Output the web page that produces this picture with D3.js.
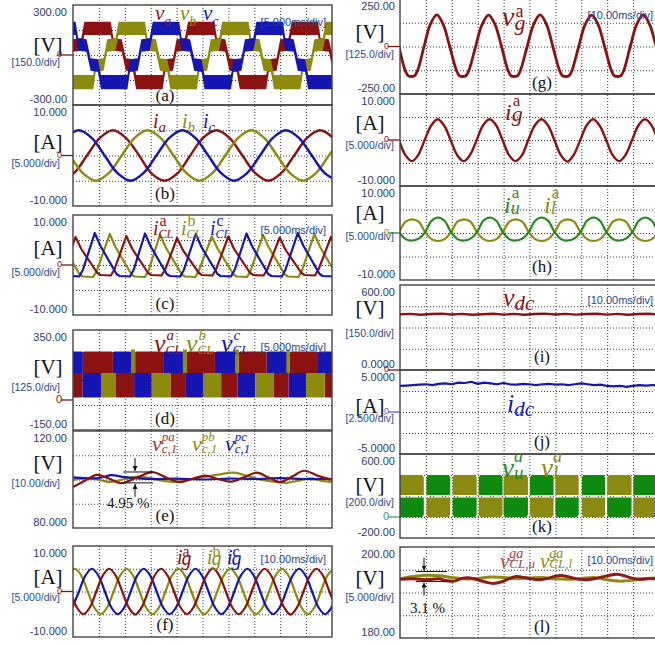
<!DOCTYPE html>
<html>
<head>
<meta charset="utf-8">
<title>MMC experimental waveforms</title>
<script src="https://cdn.jsdelivr.net/npm/d3@7/dist/d3.min.js"></script>
<style>
  html, body { margin: 0; padding: 0; background: #fff; }
  svg { display: block; }
  .tick-lbl { font-family: "Liberation Sans", Arial, sans-serif; font-size: 11px; fill: #2c3c64; }
  .div-lbl { font-family: "Liberation Sans", Arial, sans-serif; font-size: 10.5px; fill: #2a4c8c; }
  .time-lbl { font-family: "Liberation Sans", Arial, sans-serif; font-size: 11px; fill: #1d4690; }
  .unit { font-family: "Liberation Serif", "Times New Roman", serif; font-size: 21px; fill: #111; }
  .tag { font-family: "Liberation Serif", "Times New Roman", serif; font-size: 17px; fill: #111; }
  .ann { font-family: "Liberation Serif", "Times New Roman", serif; font-size: 15px; fill: #111; }
</style>
</head>
<body>
<svg id="fig" width="655" height="645" viewBox="0 0 655 645"></svg>
<script>
// ===================== waveform data =====================
// (a) output phase voltages, drawn as PWM bands: [time ms, band low V, band high V]
const vaBand = [[-2.2,-100,-25],[-0.7,-95,-20],[0.0,20,95],[1.6,25,100],
  [2.2,120,200],[7.3,120,200],[7.8,25,100],[9.4,20,95],[10.2,-95,-20],[11.6,-100,-25],[12.2,-205,-120],[17.3,-205,-120],[17.8,-100,-25],[19.3,-95,-20],[20.0,20,95],[21.6,25,100],
  [22.2,120,200],[27.3,120,200],[27.8,25,100],[29.4,20,95],[30.2,-95,-20],[31.6,-100,-25],[32.2,-205,-120],[37.3,-205,-120],[37.8,-100,-25],[39.3,-95,-20],[40.0,20,95],[41.6,25,100],
  [42.2,120,200],[47.3,120,200],[47.8,25,100],[49.4,20,95],[50.2,-95,-20],[51.6,-100,-25]];
const vbBand = [[-1.2,-205,-120],[3.9,-205,-120],[4.4,-100,-25],[5.9,-95,-20],[6.6,20,95],[8.2,25,100],
  [8.8,120,200],[13.9,120,200],[14.4,25,100],[16.0,20,95],[16.8,-95,-20],[18.2,-100,-25],[18.8,-205,-120],[23.9,-205,-120],[24.4,-100,-25],[25.9,-95,-20],[26.6,20,95],[28.2,25,100],
  [28.8,120,200],[33.9,120,200],[34.4,25,100],[36.0,20,95],[36.8,-95,-20],[38.2,-100,-25],[38.8,-205,-120],[43.9,-205,-120],[44.4,-100,-25],[45.9,-95,-20],[46.6,20,95],[48.2,25,100],
  [48.8,120,200],[53.9,120,200]];
const vcBand = [[-4.6,120,200],[0.5,120,200],[1.0,25,100],[2.6,20,95],[3.4,-95,-20],[4.8,-100,-25],[5.4,-205,-120],[10.5,-205,-120],[11.0,-100,-25],[12.5,-95,-20],[13.2,20,95],[14.8,25,100],
  [15.4,120,200],[20.5,120,200],[21.0,25,100],[22.6,20,95],[23.4,-95,-20],[24.8,-100,-25],[25.4,-205,-120],[30.5,-205,-120],[31.0,-100,-25],[32.5,-95,-20],[33.2,20,95],[34.8,25,100],
  [35.4,120,200],[40.5,120,200],[41.0,25,100],[42.6,20,95],[43.4,-95,-20],[44.8,-100,-25],[45.4,-205,-120],[50.5,-205,-120]];

// (b) load phase currents [ms, A]
const iaLoad = [[-2.3,-5.0],[0.2,-3.5],[2.7,0.0],[5.2,3.5],[7.7,5.0],[10.2,3.5],[12.7,0.1],[15.2,-3.6],[17.7,-5.0],[20.2,-3.5],[22.7,0.1],[25.2,3.6],[27.7,5.0],[30.2,3.5],[32.7,0.0],[35.2,-3.5],[37.7,-5.0],[40.2,-3.5],[42.7,0.0],[45.2,3.5],[47.7,5.0],[50.2,3.5],[52.7,0.0]];
const ibLoad = [[-5.6,5.0],[-3.1,3.5],[-0.6,0.0],[1.9,-3.5],[4.4,-5.0],[6.9,-3.5],[9.4,0.0],[11.9,3.5],[14.4,5.0],[16.9,3.5],[19.4,0.0],[21.9,-3.5],[24.4,-5.0],[26.9,-3.5],[29.4,0.0],[31.9,3.5],[34.4,5.0],[36.9,3.5],[39.4,0.0],[41.9,-3.5],[44.4,-5.0],[46.9,-3.5],[49.4,0.0],[51.9,3.5]];
const icLoad = [[-3.9,0.0],[-1.4,3.5],[1.1,5.0],[3.6,3.5],[6.1,0.0],[8.6,-3.5],[11.1,-5.0],[13.6,-3.5],[16.1,0.0],[18.6,3.5],[21.1,5.0],[23.6,3.5],[26.1,0.0],[28.6,-3.5],[31.1,-5.0],[33.6,-3.5],[36.1,0.0],[38.6,3.5],[41.1,5.0],[43.6,3.5],[46.1,0.0],[48.6,-3.5],[51.1,-5.0]];

// (c) lower-arm converter currents [ms, A]
const iclA = [[-2.4,-2.1],[-1.7,-0.8],[0.5,5.6],[1.6,3.2],[4.7,-1.6],[5.3,-2.0],[7.3,-2.1],[8.0,-0.9],
  [10.3,5.8],[11.4,3.3],[14.5,-1.6],[15.1,-2.0],[17.1,-2.1],[17.8,-0.9],
  [20.1,5.4],[21.2,3.0],[24.3,-1.6],[24.9,-2.0],[26.9,-2.1],[27.6,-0.9],
  [30.0,5.7],[31.1,3.2],[34.2,-1.6],[34.8,-2.0],[36.8,-2.1],[37.5,-0.9],
  [39.9,5.5],[41.0,3.1],[44.1,-1.6],[44.7,-2.0],[46.7,-2.1],[47.4,-0.9],
  [49.8,5.6],[50.9,3.2],[54.0,-1.6]];
const iclB = [[-2.9,6.0],[-1.8,3.5],[1.3,-1.9],[1.9,-2.3],[3.9,-2.4],[4.6,-1.1],
  [7.1,6.2],[8.2,3.6],[11.3,-1.9],[11.9,-2.3],[13.9,-2.4],[14.6,-1.1],
  [16.8,6.1],[17.9,3.5],[21.0,-1.9],[21.6,-2.3],[23.6,-2.4],[24.3,-1.1],
  [26.8,5.7],[27.9,3.3],[31.0,-1.9],[31.6,-2.3],[33.6,-2.4],[34.3,-1.1],
  [36.7,6.0],[37.8,3.5],[40.9,-1.9],[41.5,-2.3],[43.5,-2.4],[44.2,-1.1],
  [46.6,6.2],[47.7,3.6],[50.8,-1.9]];
const iclC = [[-5.6,6.2],[-4.5,3.6],[-1.4,-1.8],[-0.8,-2.2],[1.2,-2.3],[1.9,-1.0],
  [4.2,6.4],[5.3,3.8],[8.4,-1.8],[9.0,-2.2],[11.0,-2.3],[11.7,-1.0],
  [13.9,6.3],[15.0,3.7],[18.1,-1.8],[18.7,-2.2],[20.7,-2.3],[21.4,-1.0],
  [23.7,6.2],[24.8,3.6],[27.9,-1.8],[28.5,-2.2],[30.5,-2.3],[31.2,-1.0],
  [33.5,6.3],[34.6,3.7],[37.7,-1.8],[38.3,-2.2],[40.3,-2.3],[41.0,-1.0],
  [43.4,6.4],[44.5,3.8],[47.6,-1.8],[48.2,-2.2],[50.2,-2.3],[50.9,-1.0]];

// (d) lower-arm voltages: intervals [start ms, end ms] spent in the upper / lower band
const vclBands = { high: [135, 242], peak: [135, 252], low: [12, 135] };
const vclAHigh = [[1.9,7.7],[12.0,17.4],[22.0,27.4],[32.0,37.4],[41.8,47.3]];
const vclALow  = [[-1,1.8],[8.3,11.8],[18.8,21.8],[28.6,31.8],[38.8,41.6],[48.6,51]];
const vclBHigh = [[11.2,12.0],[21.2,22.0],[31.3,32.0],[41.2,41.8]];
const vclBLow  = [[5.4,8.3],[15.2,18.8],[25.1,28.6],[35.2,38.8],[45.0,48.6]];
const vclCHigh = [[-1,1.9],[7.7,11.3],[17.4,21.3],[27.4,31.4],[37.4,41.3],[47.3,51]];
const vclCLow  = [[1.8,5.4],[11.8,15.2],[21.8,25.1],[31.8,35.2],[41.6,45.0]];

// (e) fundamental of the phase cell voltages [ms, V]
const vcpA = [[0,96.9],[2.3,99.5],[4.6,101.9],[6.8,100.5],[9.3,98.5],[12.3,100.8],[15.4,103.0],[18.0,100.8],[20.6,98.9],[23.0,100.2],[25.5,101.6],[28.0,100.2],[30.5,99.1],[33.0,100.9],[35.5,102.8],[37.7,100.9],[40.0,99.0],[42.4,101.3],[44.6,103.6],[47.3,101.5],[50,99.8]];
const vcpB = [[0,99.8],[3,100.6],[5.5,99.6],[7.2,99.0],[10,100.2],[12.5,101.2],[15,100.6],[17.5,99.4],[20,99.0],[22.5,100.0],[25,101.0],[28,102.0],[31,102.8],[33.5,101.6],[36,100.0],[38.5,99.2],[41,98.6],[43.5,99.5],[46,100.5],[48,99.4],[50,99.0]];
const vcpC = [[0,100.9],[5,100.6],[7.3,101.8],[10,101.0],[15,100.2],[20,100.4],[25,100.0],[30,100.4],[35,100.2],[40,100.6],[45,100.2],[50,100.3]];

// (f) grid currents [ms, A]
const igA = [[-1,0],[1.5,-3.5],[4,-5.0],[6.5,-3.5],[9,0],[11.5,3.5],[14,5.0],[16.5,3.5],[19,0],[21.5,-3.5],[24,-5.1],[26.5,-3.5],[29,0],[31.5,3.5],[34,5.0],[36.5,3.5],[39,0],[41.5,-3.5],[44,-5.0],[46.5,-3.5],[49,0],[51.5,3.5],[54,5.1],[56.5,3.5],[59,0],[61.5,-3.5],[64,-5.0],[66.5,-3.5],[69,0],[71.5,3.5],[74,5.0],[76.5,3.5],[79,0],[81.5,-3.5],[84,-5.1],[86.5,-3.5],[89,0],[91.5,3.5],[94,5.0],[96.5,3.5],[99,0],[101.5,-3.5]];
const igB = [[-1.8,3.5],[0.7,5.0],[3.2,3.5],[5.7,0],[8.2,-3.5],[10.7,-5.0],[13.2,-3.5],[15.7,0],[18.2,3.5],[20.7,5.0],[23.2,3.5],[25.7,0],[28.2,-3.5],[30.7,-5.0],[33.2,-3.5],[35.7,0],[38.2,3.5],[40.7,5.0],[43.2,3.5],[45.7,0],[48.2,-3.5],[50.7,-5.0],[53.2,-3.5],[55.7,0],[58.2,3.5],[60.7,5.0],[63.2,3.5],[65.7,0],[68.2,-3.5],[70.7,-5.0],[73.2,-3.5],[75.7,0],[78.2,3.5],[80.7,5.0],[83.2,3.5],[85.7,0],[88.2,-3.5],[90.7,-5.0],[93.2,-3.5],[95.7,0],[98.2,3.5],[100.7,5.0]];
const igC = [[-0.2,-3.5],[2.3,0],[4.8,3.5],[7.3,5.0],[9.8,3.5],[12.3,0],[14.8,-3.5],[17.3,-5.0],[19.8,-3.5],[22.3,0],[24.8,3.5],[27.3,5.0],[29.8,3.5],[32.3,0],[34.8,-3.5],[37.3,-5.0],[39.8,-3.5],[42.3,0],[44.8,3.5],[47.3,5.0],[49.8,3.5],[52.3,0],[54.8,-3.5],[57.3,-5.0],[59.8,-3.5],[62.3,0],[64.8,3.5],[67.3,5.0],[69.8,3.5],[72.3,0],[74.8,-3.5],[77.3,-5.0],[79.8,-3.5],[82.3,0],[84.8,3.5],[87.3,5.0],[89.8,3.5],[92.3,0],[94.8,-3.5],[97.3,-5.0],[99.8,-3.5],[102.3,0]];

// (g) grid phase voltage [ms, V]
const vgA = [[-3.0,116],[-0.5,0],[1.9,-122],[3.1,-153],[4.4,-158],[5.7,-153],[6.9,-122],[9.3,0],[11.7,116],[14.2,166],[16.7,115],
  [19.2,0],[21.7,-122],[22.9,-153],[24.2,-158],[25.5,-153],[26.7,-122],[29.2,0],[31.7,116],[34.2,165],[36.7,115],
  [39.2,0],[41.6,-122],[42.8,-153],[44.1,-158],[45.4,-153],[46.6,-122],[49.1,0],[51.6,116],[54.1,166],[56.6,115],
  [59.0,0],[61.5,-122],[62.7,-153],[64.0,-158],[65.3,-153],[66.5,-122],[69.0,0],[71.5,116],[74.0,165],[76.5,115],
  [79.0,0],[81.5,-122],[82.7,-153],[84.0,-158],[85.3,-153],[86.5,-122],[88.9,0],[91.4,116],[93.9,166],[96.4,115],
  [98.9,0],[101.4,-122]];

// grid phase current [ms, A]
const igaLine = [[-0.4,0.0],[2.1,-3.3],[4.6,-4.6],[7.1,-3.2],[9.6,0.1],[12.1,3.2],[14.6,4.5],[17.1,3.1],[19.6,-0.1],[22.1,-3.3],[24.6,-4.6],[27.1,-3.2],[29.6,0.0],[32.1,3.2],[34.6,4.5],[37.1,3.2],[39.6,0.0],[42.1,-3.3],[44.6,-4.6],[47.1,-3.3],[49.6,0.1],[52.1,3.2],[54.6,4.5],[57.1,3.2],[59.6,0.0],[62.1,-3.3],[64.6,-4.7],[67.1,-3.2],[69.6,0.0],[72.1,3.2],[74.6,4.5],[77.1,3.1],[79.6,0.0],[82.1,-3.3],[84.6,-4.6],[87.1,-3.2],[89.6,0.0],[92.1,3.2],[94.6,4.5],[97.1,3.2],[99.6,0.0],[102.1,-3.3]];

// (h) upper and lower arm currents [ms, A]
const iuA = [[-0.3,0.2],[2.2,-1.3],[4.7,-1.6],[7.2,-1.2],[9.7,0.2],[12.2,2.6],[14.7,3.3],[17.2,2.6],[19.7,0.2],[22.2,-1.3],[24.7,-1.6],[27.2,-1.2],[29.7,0.2],[32.2,2.6],[34.7,3.3],[37.2,2.6],[39.7,0.2],[42.2,-1.3],[44.7,-1.6],[47.2,-1.2],[49.7,0.2],[52.2,2.6],[54.7,3.3],[57.2,2.6],[59.7,0.2],[62.2,-1.3],[64.7,-1.6],[67.2,-1.2],[69.7,0.2],[72.2,2.6],[74.7,3.3],[77.2,2.6],[79.7,0.2],[82.2,-1.3],[84.7,-1.6],[87.2,-1.2],[89.7,0.2],[92.2,2.6],[94.7,3.3],[97.2,2.6],[99.7,0.2],[102.2,-1.3]];
const ilA = [[-0.3,0.2],[2.2,2.4],[4.7,2.9],[7.2,2.4],[9.7,0.2],[12.2,-1.3],[14.7,-1.7],[17.2,-1.3],[19.7,0.2],[22.2,2.4],[24.7,2.9],[27.2,2.4],[29.7,0.2],[32.2,-1.3],[34.7,-1.7],[37.2,-1.3],[39.7,0.2],[42.2,2.4],[44.7,2.9],[47.2,2.4],[49.7,0.2],[52.2,-1.3],[54.7,-1.7],[57.2,-1.3],[59.7,0.2],[62.2,2.4],[64.7,2.9],[67.2,2.4],[69.7,0.2],[72.2,-1.3],[74.7,-1.7],[77.2,-1.3],[79.7,0.2],[82.2,2.4],[84.7,2.9],[87.2,2.4],[89.7,0.2],[92.2,-1.3],[94.7,-1.7],[97.2,-1.3],[99.7,0.2],[102.2,2.4]];

// (i) dc-link voltage [ms, V]
const vdc = [[0,393],[4,396],[8,390],[12,395],[16,398],[20,392],[24,396],[28,390],[32,394],[36,397],[40,391],[44,396],[48,390],[52,395],[56,398],[60,392],[64,396],[68,391],[72,395],[76,397],[80,391],[84,396],[88,390],[92,395],[96,397],[100,392]];

// (j) dc-link current [ms, A]
const idc = [[0,3.1],[2.5,3.15],[5,3.2],[7.5,3.25],[10,3.3],[12.5,3.2],[15,3.35],[17.5,3.4],[20,3.3],[22.5,3.5],[25,3.45],[27.5,3.6],[30,3.35],[32.5,3.5],[35,3.4],[37.5,3.3],[40,3.45],[42.5,3.3],[45,3.25],[47.5,3.35],[50,3.3],[52.5,3.2],[55,3.3],[57.5,3.35],[60,3.25],[62.5,3.3],[65,3.2],[67.5,3.3],[70,3.4],[72.5,3.3],[75,3.2],[77.5,3.25],[80,3.1],[82.5,3.05],[85,3.1],[87.5,3.0],[90,3.1],[92.5,3.2],[95,3.15],[97.5,3.2],[100,3.2]];

// (k) upper / lower arm voltages: intervals [start ms, end ms] in each band
const armBands = { high: [210, 400], low: [-2, 186] };
const vuHigh = [[10.2,19.4],[30.4,39.6],[50.2,59.3],[70.2,79.2],[90.1,101]];
const vuLow  = [[-1,9.2],[20.3,29.6],[40.0,49.4],[60.0,69.0],[80.0,89.4]];
const vlHigh = [[-1,9.2],[20.3,29.6],[40.0,49.4],[60.0,69.0],[80.0,89.4]];
const vlLow  = [[10.2,19.4],[30.4,39.6],[50.2,59.3],[70.2,79.2],[90.1,101]];

// (l) phase-a cell voltages of upper and lower arm [ms, V]
const vcellU = [[0,192.9],[5,193.0],[10,192.8],[15,193.0],[18,192.6],[21,192.5],[24,193.1],[27,193.2],[30,192.8],[33,192.3],[36,192.0],[39,192.3],[42,193.0],[45,193.5],[48,193.3],[51,193.0],[54,192.8],[57,193.1],[60,193.6],[63,193.7],[66,193.3],[69,192.9],[72,192.8],[75,193.0],[78,193.4],[81,193.8],[84,194.0],[87,193.6],[90,193.1],[93,192.9],[96,193.0],[100,193.0]];
const vcellL = [[0,193.0],[5,193.5],[10,193.8],[15,193.7],[20,193.3],[25,193.0],[30,193.1],[35,193.4],[40,193.3],[45,193.1],[50,193.2],[55,193.3],[60,193.0],[65,192.9],[70,193.1],[75,193.3],[80,192.8],[85,192.5],[90,192.7],[95,193.1],[100,193.2]];

// axis end labels, per panel (top, bottom)
const yLabelsA = ['300.00', '-300.00'];
const yLabelsB = ['10.000', '-10.000'];
const yLabelsC = ['10.000', '-10.000'];
const yLabelsD = ['350.00', '-150.00'];
const yLabelsE = ['120.00', '80.000'];
const yLabelsF = ['10.000', '-10.000'];
const yLabelsG = ['250.00', '-250.00'];
const yLabelsIg = ['10.000', '-10.000'];
const yLabelsH = ['10.000', '-10.000'];
const yLabelsI = ['600.00', '0.0000'];
const yLabelsJ = ['5.0000', '-5.0000'];
const yLabelsK = ['600.00', '-200.00'];
const yLabelsL = ['200.00', '180.00'];

// ===================== drawing =====================
const RED = '#8c1212', OLV = '#8d8b0e', BLU = '#1515b2', GRN = '#1d8c1d';
const svg = d3.select('#fig');
const defs = svg.append('defs');
defs.append('marker').attr('id', 'arrowhead').attr('viewBox', '0 0 10 10')
  .attr('refX', 10).attr('refY', 5).attr('markerWidth', 5).attr('markerHeight', 5)
  .attr('orient', 'auto').append('path').attr('d', 'M0,0L10,5L0,10z').attr('fill', '#111');

const LEFT = { x0: 73, x1: 332, tickX: 67, unitX: 48, divX: 60, zeroX: 61, tagX: 165, timeX: 326 };
const RIGHT = { x0: 400, x1: 659, tickX: 395, unitX: 370, divX: 394, zeroX: 388, tagX: 542, timeX: 653 };

function makePanel(o) {
  const c = o.col;
  const x = d3.scaleLinear().domain(o.t).range([c.x0, c.x1]);
  const y = d3.scaleLinear().domain(o.v).range([o.y1, o.y0]);
  const id = 'clip-' + o.key;
  defs.append('clipPath').attr('id', id).append('rect')
    .attr('x', c.x0).attr('y', o.y0).attr('width', c.x1 - c.x0).attr('height', o.y1 - o.y0);
  const root = svg.append('g');
  const tStep = (o.t[1] - o.t[0]) / 10, vStep = (o.v[1] - o.v[0]) / 4;
  const grid = root.append('g');
  grid.append('g').attr('transform', `translate(0,${o.y1})`)
    .call(d3.axisBottom(x).tickValues(d3.range(1, 10).map(i => o.t[0] + i * tStep))
      .tickSize(-(o.y1 - o.y0)).tickFormat(''));
  grid.append('g').attr('transform', `translate(${c.x0},0)`)
    .call(d3.axisLeft(y).tickValues(d3.range(1, 4).map(i => o.v[0] + i * vStep))
      .tickSize(-(c.x1 - c.x0)).tickFormat(''));
  grid.selectAll('.domain').remove();
  grid.selectAll('.tick line').attr('stroke', '#3a3a3a').attr('stroke-width', 1)
    .attr('stroke-dasharray', '1,2');
  const plot = root.append('g').attr('clip-path', `url(#${id})`);

  // end-of-scale labels
  root.append('text').attr('class', 'tick-lbl').attr('text-anchor', 'end')
    .attr('x', c.tickX).attr('y', y(o.v[1]) + 8).attr('dominant-baseline', 'middle').text(o.labels[0]);
  root.append('text').attr('class', 'tick-lbl').attr('text-anchor', 'end')
    .attr('x', c.tickX).attr('y', y(o.v[0]) - 5).attr('dominant-baseline', 'middle').text(o.labels[1]);
  root.append('text').attr('class', 'unit').attr('text-anchor', 'middle')
    .attr('x', c.unitX).attr('y', o.unitY).text(o.unit);
  root.append('text').attr('class', 'div-lbl').attr('text-anchor', 'end')
    .attr('x', c.divX).attr('y', o.divY).text(o.div);
  if (o.time) root.append('text').attr('class', 'time-lbl').attr('text-anchor', 'end')
    .attr('x', c.timeX).attr('y', o.timeY).text(o.time);
  if (o.tag) root.append('text').attr('class', 'tag').attr('text-anchor', 'middle')
    .attr('x', c.tagX).attr('y', o.tagY).text(o.tag);
  if (o.zero) {
    const yz = y(0);
    root.append('line').attr('x1', c.zeroX).attr('x2', c.x0).attr('y1', yz).attr('y2', yz)
      .attr('stroke', o.zero).attr('stroke-width', 1.3);
    root.append('text').attr('x', c.zeroX + 1).attr('y', yz).attr('text-anchor', 'end')
      .attr('dominant-baseline', 'middle').style('font-family', '"Liberation Sans", Arial, sans-serif')
      .style('font-size', o.zeroSize || '9px').attr('fill', o.zeroText || o.zero).text('0');
  }
  return { x, y, root, plot, o, c };
}

function frame(p) {
  p.root.append('rect').attr('x', p.c.x0).attr('y', p.o.y0)
    .attr('width', p.c.x1 - p.c.x0).attr('height', p.o.y1 - p.o.y0)
    .attr('fill', 'none').attr('stroke', '#444').attr('stroke-width', 1.4);
}

function trace(p, data, color, width, curve) {
  const line = d3.line().x(d => p.x(d[0])).y(d => p.y(d[1])).curve(curve || d3.curveCatmullRom);
  p.plot.append('path').attr('d', line(data)).attr('fill', 'none').attr('stroke', color)
    .attr('stroke-width', width).attr('stroke-linejoin', 'round');
}

function bandTrace(p, data, color) {
  const area = d3.area().x(d => p.x(d[0])).y0(d => p.y(d[1])).y1(d => p.y(d[2]));
  p.plot.append('path').attr('d', area(data)).attr('fill', color);
}

// blocks for switched arm/cell voltages; the outer edge is eased in and out
function blocks(p, spans, band, outerTop, color, ease, inset) {
  const area = d3.area().x(d => p.x(d[0])).y0(d => p.y(d[1])).y1(d => p.y(d[2])).curve(d3.curveMonotoneX);
  const r = inset == null ? 0.8 : inset;
  spans.forEach(([t0, t1]) => {
    const lo = band[0], hi = band[1];
    const k = outerTop
      ? [[t0, lo, hi - ease], [t0 + r, lo, hi], [t1 - r, lo, hi], [t1, lo, hi - ease]]
      : [[t0, lo + ease, hi], [t0 + r, lo, hi], [t1 - r, lo, hi], [t1, lo + ease, hi]];
    p.plot.append('path').attr('d', area(k)).attr('fill', color);
  });
}

// one text element per signal name, with stacked super/subscripts
function mathLabel(x, y, color, base, sup, sub, o) {
  const t = svg.append('text').attr('x', x).attr('y', y).attr('fill', color)
    .style('font-family', '"Liberation Serif", "Times New Roman", serif');
  t.append('tspan').style('font-style', 'italic').style('font-size', o.size + 'px').text(base);
  const w = t.node().getComputedTextLength();
  if (sup) t.append('tspan').attr('x', x + w + (o.supDx || 0)).attr('y', y + o.supDy)
    .style('font-style', o.supItalic ? 'italic' : 'normal').style('font-size', o.ss + 'px').text(sup);
  if (sub) t.append('tspan').attr('x', x + w + (o.subDx || 0)).attr('y', y + o.subDy)
    .style('font-style', 'italic').style('font-size', o.bs + 'px').text(sub);
}

// ---------- left column ----------
const pA = makePanel({ key: 'a', col: LEFT, y0: 5, y1: 105, t: [0, 50], v: [-300, 300], labels: yLabelsA,
  unit: '[V]', unitY: 52, div: '[150.0/div]', divY: 66, time: '[5.000ms/div]', timeY: 26, tag: '(a)', tagY: 101, zero: RED });
bandTrace(pA, vaBand, RED);
bandTrace(pA, vbBand, OLV);
bandTrace(pA, vcBand, BLU);
frame(pA);

const pB = makePanel({ key: 'b', col: LEFT, y0: 105, y1: 206, t: [0, 50], v: [-10, 10], labels: yLabelsB,
  unit: '[A]', unitY: 149, div: '[5.000/div]', divY: 167, tag: '(b)', tagY: 199, zero: RED });
trace(pB, iaLoad, RED, 2.4);
trace(pB, ibLoad, OLV, 2.4);
trace(pB, icLoad, BLU, 2.4);
frame(pB);

const pC = makePanel({ key: 'c', col: LEFT, y0: 215, y1: 315, t: [0, 50], v: [-10, 10], labels: yLabelsC,
  unit: '[A]', unitY: 255, div: '[5.000/div]', divY: 276, time: '[5.000ms/div]', timeY: 234, tag: '(c)', tagY: 309, zero: RED });
trace(pC, iclB, OLV, 2.2, d3.curveLinear);
trace(pC, iclA, RED, 2.2, d3.curveLinear);
trace(pC, iclC, BLU, 2.2, d3.curveLinear);
frame(pC);

const pD = makePanel({ key: 'd', col: LEFT, y0: 330, y1: 430, t: [0, 50], v: [-150, 350], labels: yLabelsD,
  unit: '[V]', unitY: 374, div: '[125.0/div]', divY: 391, time: '[5.000ms/div]', timeY: 351, tag: '(d)', tagY: 424,
  zero: RED, zeroSize: '11px' });
blocks(pD, vclCHigh, vclBands.high, true, BLU, 3, 0.3);
blocks(pD, vclCLow, vclBands.low, false, BLU, 3, 0.3);
blocks(pD, vclALow, vclBands.low, false, RED, 3, 0.3);
blocks(pD, vclBLow, vclBands.low, false, OLV, 3, 0.3);
blocks(pD, vclAHigh, vclBands.high, true, RED, 3, 0.3);
blocks(pD, vclBHigh, vclBands.peak, true, OLV, 0, 0.2);
frame(pD);

const pE = makePanel({ key: 'e', col: LEFT, y0: 431, y1: 528, t: [0, 50], v: [80, 120], labels: yLabelsE,
  unit: '[V]', unitY: 470, div: '[10.00/div]', divY: 487, tag: '(e)', tagY: 521 });
trace(pE, vcpB, OLV, 2.2);
trace(pE, vcpC, BLU, 2.2);
trace(pE, vcpA, RED, 2.2);
frame(pE);

const pF = makePanel({ key: 'f', col: LEFT, y0: 546, y1: 637, t: [0, 100], v: [-10, 10], labels: yLabelsF,
  unit: '[A]', unitY: 584, div: '[5.000/div]', divY: 601, time: '[10.00ms/div]', timeY: 563, tag: '(f)', tagY: 630, zero: RED });
trace(pF, igB, OLV, 2.2);
trace(pF, igC, BLU, 2.2);
trace(pF, igA, RED, 2.2);
frame(pF);

// ---------- right column ----------
const pG = makePanel({ key: 'g', col: RIGHT, y0: -1, y1: 94, t: [0, 100], v: [-250, 250], labels: yLabelsG,
  unit: '[V]', unitY: 39, div: '[125.0/div]', divY: 58, time: '[10.00ms/div]', timeY: 19, tag: '(g)', tagY: 88, zero: RED });
trace(pG, vgA, RED, 2.8);
frame(pG);

const pIg = makePanel({ key: 'ig', col: RIGHT, y0: 94, y1: 186, t: [0, 100], v: [-10, 10], labels: yLabelsIg,
  unit: '[A]', unitY: 130, div: '[5.000/div]', divY: 149, zero: RED });
trace(pIg, igaLine, RED, 2.4);
frame(pIg);

const pH = makePanel({ key: 'h', col: RIGHT, y0: 186, y1: 280, t: [0, 100], v: [-10, 10], labels: yLabelsH,
  unit: '[A]', unitY: 220, div: '[5.000/div]', divY: 240, tag: '(h)', tagY: 272, zero: GRN, zeroText: OLV });
trace(pH, ilA, OLV, 2.2);
trace(pH, iuA, GRN, 2.2);
frame(pH);

const pI = makePanel({ key: 'i', col: RIGHT, y0: 285, y1: 370, t: [0, 100], v: [0, 600], labels: yLabelsI,
  unit: '[V]', unitY: 315, div: '[150.0/div]', divY: 337, time: '[10.00ms/div]', timeY: 304, tag: '(i)', tagY: 362, zero: RED });
trace(pI, vdc, RED, 2.4, d3.curveLinear);
frame(pI);

const pJ = makePanel({ key: 'j', col: RIGHT, y0: 370, y1: 454, t: [0, 100], v: [-5, 5], labels: yLabelsJ,
  unit: '[A]', unitY: 413, div: '[2.500/div]', divY: 422, tag: '(j)', tagY: 447, zero: '#5a5ad0' });
trace(pJ, idc, BLU, 2.2, d3.curveLinear);
frame(pJ);

const pK = makePanel({ key: 'k', col: RIGHT, y0: 454, y1: 538, t: [0, 100], v: [-200, 600], labels: yLabelsK,
  unit: '[V]', unitY: 492, div: '[200.0/div]', divY: 506, tag: '(k)', tagY: 532, zero: '#3aa070', zeroSize: '11px' });
blocks(pK, vlHigh, armBands.high, true, '#8a8a12', 25);
blocks(pK, vlLow, armBands.low, false, '#8a8a12', 25);
blocks(pK, vuHigh, armBands.high, true, '#0e8a0e', 25);
blocks(pK, vuLow, armBands.low, false, '#0e8a0e', 25);
pK.plot.append('line').attr('x1', pK.x(0)).attr('x2', pK.x(100)).attr('y1', pK.y(198)).attr('y2', pK.y(198))
  .attr('stroke', '#fff').attr('stroke-width', 1.2).attr('stroke-dasharray', '5,7');
frame(pK);

const pL = makePanel({ key: 'l', col: RIGHT, y0: 547, y1: 638, t: [0, 100], v: [180, 200], labels: yLabelsL,
  unit: '[V]', unitY: 585, div: '[5.000/div]', divY: 601, time: '[10.00ms/div]', timeY: 564, tag: '(l)', tagY: 632 });
trace(pL, vcellL, OLV, 3);
trace(pL, vcellU, '#901818', 3);
frame(pL);

// ---------- ripple annotations ----------
function ripple(p, xc, xa, xb, vTop, vBot, textX, textY, text) {
  const g = svg.append('g');
  const yT = p.y(vTop), yB = p.y(vBot);
  [yT, yB].forEach(yy => g.append('line').attr('x1', xa).attr('x2', xb).attr('y1', yy).attr('y2', yy)
    .attr('stroke', '#111').attr('stroke-width', 1));
  g.append('line').attr('x1', xc).attr('x2', xc).attr('y1', yT - 14).attr('y2', yT - 1)
    .attr('stroke', '#111').attr('stroke-width', 1).attr('marker-end', 'url(#arrowhead)');
  g.append('line').attr('x1', xc).attr('x2', xc).attr('y1', yB + 14).attr('y2', yB + 1)
    .attr('stroke', '#111').attr('stroke-width', 1).attr('marker-end', 'url(#arrowhead)');
  g.append('text').attr('class', 'ann').attr('x', textX).attr('y', textY).text(text);
}
ripple(pE, 135, 123, 153, 103.1, 98.6, 107, 508, '4.95 %');
ripple(pL, 424, 416, 447, 194.6, 192.4, 410, 613, '3.1 %');

// ---------- signal names ----------
const S = { size: 21, ss: 14, bs: 14, supDy: -10, subDy: 6 };
mathLabel(155, 20, RED, 'v', null, 'a', S);
mathLabel(180, 20, OLV, 'v', null, 'b', S);
mathLabel(203, 20, BLU, 'v', null, 'c', S);

const SI = { size: 20, ss: 14, bs: 15, supDy: -10, subDy: 4 };
mathLabel(153, 128, RED, 'i', null, 'a', SI);
mathLabel(182, 128, OLV, 'i', null, 'b', SI);
mathLabel(203, 128, BLU, 'i', null, 'c', SI);

const SC = { size: 20, ss: 16, bs: 12, supDy: -9, subDy: 3, supDx: 1 };
mathLabel(153, 235, RED, 'i', 'a', 'CL', SC);
mathLabel(181, 235, OLV, 'i', 'b', 'CL', SC);
mathLabel(210, 235, BLU, 'i', 'c', 'CL', SC);

const SD = { size: 26, ss: 15, bs: 13, supDy: -12, subDy: 2, supItalic: true, supDx: 1 };
mathLabel(154, 352, RED, 'v', 'a', 'CL', SD);
mathLabel(186, 352, OLV, 'v', 'b', 'CL', SD);
mathLabel(221, 352, BLU, 'v', 'c', 'CL', SD);

const SE = { size: 22, ss: 13, bs: 13, supDy: -10, subDy: 2, supItalic: true };
mathLabel(152, 451, '#9a3636', 'v', 'pa', 'c,1', SE);
mathLabel(192, 451, OLV, 'v', 'pb', 'c,1', SE);
mathLabel(225, 451, BLU, 'v', 'pc', 'c,1', SE);

const SF = { size: 20, ss: 16, bs: 20, supDy: -7, subDy: 1, subDx: -1 };
mathLabel(177, 564, RED, 'i', 'a', 'g', SF);
mathLabel(207, 564, OLV, 'i', 'b', 'g', SF);
mathLabel(227, 564, BLU, 'i', 'c', 'g', SF);

mathLabel(502, 26, RED, 'v', 'a', 'g', { size: 28, ss: 18, bs: 22, supDy: -9, subDy: 4, supDx: 1 });
mathLabel(505, 120, RED, 'i', 'a', 'g', { size: 24, ss: 17, bs: 22, supDy: -14, subDy: 1, supDx: 1 });
mathLabel(504, 213, GRN, 'i', 'a', 'u', { size: 24, ss: 17, bs: 18, supDy: -15, subDy: 1, supDx: 1 });
mathLabel(544, 213, OLV, 'i', 'a', 'l', { size: 24, ss: 17, bs: 18, supDy: -15, subDy: 1, supDx: 1 });
mathLabel(503, 306, RED, 'v', null, 'dc', { size: 26, ss: 18, bs: 21, supDy: 0, subDy: 4 });
mathLabel(507, 412, BLU, 'i', null, 'dc', { size: 26, ss: 18, bs: 21, supDy: 0, subDy: 4 });
mathLabel(502, 477, GRN, 'v', 'a', 'u', { size: 27, ss: 18, bs: 19, supDy: -15, subDy: 2, supItalic: true });
mathLabel(541, 477, OLV, 'v', 'a', 'l', { size: 27, ss: 18, bs: 19, supDy: -15, subDy: 2, supItalic: true });
mathLabel(500, 568, '#a04444', 'v', 'ga', 'CL,u', { size: 21, ss: 14, bs: 13, supDy: -10, subDy: 0, supItalic: true });
mathLabel(540, 568, OLV, 'v', 'ga', 'CL,l', { size: 21, ss: 14, bs: 13, supDy: -10, subDy: 0, supItalic: true });
</script>
</body>
</html>
